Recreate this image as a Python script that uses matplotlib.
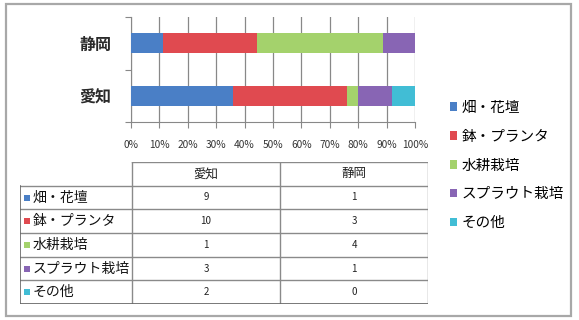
import numpy as np
import matplotlib
matplotlib.use("Agg")
import matplotlib.pyplot as plt
from matplotlib.patches import Patch, Rectangle

plt.rcParams['font.family'] = ['Noto Sans CJK JP', 'DejaVu Sans']

# data
regions = ["愛知", "静岡"]
kinds = ["畑・花壇", "鉢・プランタ", "水耕栽培", "スプラウト栽培", "その他"]
aichi = [9, 10, 1, 3, 2]
shizuoka = [1, 3, 4, 1, 0]
xticks = [0, 10, 20, 30, 40, 50, 60, 70, 80, 90, 100]
colors = ["#4a7fc6", "#e04a50", "#a4d26c", "#8865b4", "#41bdd5"]

W, H = 579, 320
fig = plt.figure(figsize=(W / 100, H / 100), dpi=100)
fig.patch.set_facecolor("white")

def px(x0, y0, x1, y1):
    return [x0 / W, 1 - y1 / H, (x1 - x0) / W, (y1 - y0) / H]

# outer frame
fig.patches.append(Rectangle((6 / W, 1 - 316 / H), 565 / W, 312 / H,
                             transform=fig.transFigure, fill=False,
                             edgecolor="#a8a8a8", linewidth=1.6))

# stacked 100% bars
ax = fig.add_axes(px(131, 17, 415, 122))
counts = np.array([aichi, shizuoka], dtype=float)
pct = counts / counts.sum(axis=1, keepdims=True) * 100
left = np.zeros(len(regions))
for i, k in enumerate(kinds):
    ax.barh(range(len(regions)), pct[:, i], left=left, height=0.39,
            color=colors[i], zorder=3)
    left += pct[:, i]
ax.set_xlim(0, 100)
ax.set_ylim(-0.5, 1.5)
ax.set_xticks(xticks)
ax.set_xticklabels([f"{t}%" for t in xticks], fontsize=7.3, color="#333333")
ax.set_yticks([-0.5, 0.5, 1.5], minor=False)
ax.set_yticklabels([])
ax.set_yticks(range(len(regions)), minor=True)
ax.set_yticklabels(regions, minor=True, fontsize=11.5, fontweight="bold", color="#2a2a2a")
ax.tick_params(axis="y", which="minor", length=0, pad=14)
ax.tick_params(axis="y", which="major", length=4, color="#888888")
ax.tick_params(axis="x", length=4, color="#888888", pad=9)
ax.grid(axis="x", color="#888888", linewidth=0.9, zorder=0)
for s in ["top", "right"]:
    ax.spines[s].set_visible(False)
for s in ["left", "bottom"]:
    ax.spines[s].set_color("#888888")

# legend
handles = [Patch(facecolor=c, edgecolor="none") for c in colors]
fig.legend(handles, kinds, loc="upper left", bbox_to_anchor=(444 / W, 1 - 95 / H),
           frameon=False, fontsize=10.5, handlelength=0.5, handleheight=0.5,
           handletextpad=0.3, labelspacing=1.02, borderaxespad=0)

# data table
tax = fig.add_axes(px(20, 162, 428, 304))
colx = [0, 112, 260, 408]
nrow = len(kinds) + 1
tax.set_xlim(0, 408)
tax.set_ylim(nrow, 0)
tax.axis("off")
lc = "#8a8a8a"
tax.plot([colx[1], colx[3]], [0, 0], color=lc, lw=1)
for r in range(1, nrow + 1):
    tax.plot([colx[0], colx[3]], [r, r], color=lc, lw=1)
tax.plot([colx[0], colx[0]], [1, nrow], color="#666666", lw=1.2)
for cx in colx[1:]:
    tax.plot([cx, cx], [0, nrow], color=lc, lw=1)
tax.plot([colx[0], colx[3]], [nrow, nrow], color="#666666", lw=1.2)

for j, name in enumerate(["愛知", "静岡"]):
    tax.text((colx[j + 1] + colx[j + 2]) / 2, 0.5, name, ha="center", va="center",
             fontsize=9, color="#222222")
cols = [aichi, shizuoka]
for i, k in enumerate(kinds):
    y = i + 1.5
    tax.scatter([7], [y], marker="s", s=18, color=colors[i], linewidths=0)
    tax.text(13, y, k, ha="left", va="center", fontsize=10, color="#111111")
    for j, vals in enumerate(cols):
        tax.text((colx[j + 1] + colx[j + 2]) / 2, y, str(vals[i]), ha="center",
                 va="center", fontsize=7, color="#222222")

fig.savefig("out.png", dpi=100)
